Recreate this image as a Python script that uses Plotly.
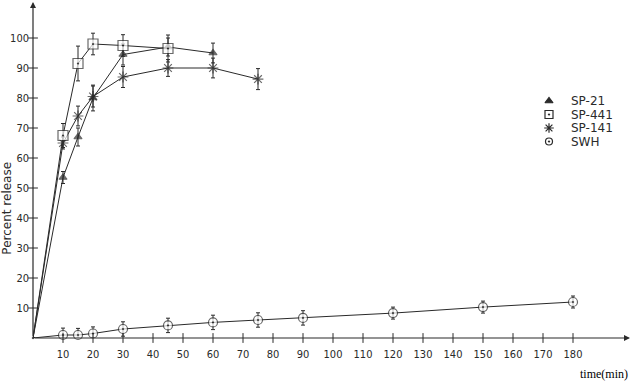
import plotly.graph_objects as go

# ---- data ----
t_sp21 = [0, 10, 15, 20, 30, 45, 60]
y_sp21 = [0, 53.5, 67, 80, 94.5, 97, 95]
e_sp21 = [0, 2, 3, 4.3, 3.5, 3, 3.3]

t_sp441 = [0, 10, 15, 20, 30, 45]
y_sp441 = [0, 67.5, 91.5, 98, 97.5, 96.5]
e_sp441 = [0, 4, 5.8, 3.6, 3.6, 4.5]

t_sp141 = [0, 10, 15, 20, 30, 45, 60, 75]
y_sp141 = [0, 65, 74, 80.5, 87, 90, 90, 86.3]
e_sp141 = [0, 2, 3.3, 3.5, 3.5, 2.8, 3.3, 3.5]

t_swh = [0, 10, 15, 20, 30, 45, 60, 75, 90, 120, 150, 180]
y_swh = [0, 1, 1, 1.5, 3, 4.2, 5.2, 6, 6.7, 8.3, 10.3, 12]
e_swh = [0, 2.3, 2.2, 2.2, 2.4, 2.4, 2.4, 2.4, 2.4, 2, 2, 2]

x_ticks = list(range(10, 190, 10))
y_ticks = list(range(10, 110, 10))

names = ["SP-21", "SP-441", "SP-141", "SWH"]

FONT = "DejaVu Sans Condensed, DejaVu Sans, sans-serif"
LFONT = "DejaVu Sans, sans-serif"
INK = "#2a2a2a"

fig = go.Figure()

def add_series(t, y, e, name, symbol, size, mcolor, lw=1):
    sizes = [0] + [size] * (len(t) - 1)
    fig.add_trace(go.Scatter(
        x=t, y=y, mode="lines+markers", name=name, showlegend=False,
        line=dict(color=INK, width=lw),
        marker=dict(symbol=symbol, size=sizes, color=mcolor,
                    line=dict(color=INK, width=1.2)),
        error_y=dict(type="data", array=e, visible=True, color=INK,
                     thickness=1, width=2),
        cliponaxis=False,
    ))

add_series(t_swh, y_swh, e_swh, names[3], "circle-dot", 9, "white")
add_series(t_sp141, y_sp141, e_sp141, names[2], "asterisk-open", 9, INK)
add_series(t_sp21, y_sp21, e_sp21, names[0], "triangle-up", 7, INK)
add_series(t_sp441, y_sp441, e_sp441, names[1], "square-dot", 10, "white")

# crossing tick marks on the axes
fig.add_trace(go.Scatter(x=x_ticks, y=[0] * len(x_ticks), mode="markers",
                         showlegend=False, hoverinfo="skip",
                         marker=dict(symbol="line-ns-open", size=7, color=INK,
                                     line=dict(color=INK, width=1)),
                         cliponaxis=False))
fig.add_trace(go.Scatter(x=[0] * len(y_ticks), y=y_ticks, mode="markers",
                         showlegend=False, hoverinfo="skip",
                         marker=dict(symbol="line-ew-open", size=7, color=INK,
                                     line=dict(color=INK, width=1)),
                         cliponaxis=False))

# legend drawn as markers + text
leg_syms = ["triangle-up", "square-dot", "asterisk-open", "circle-dot"]
leg_fill = [INK, "white", INK, "white"]
leg_size = [7, 8, 8, 7]
leg_x = 172
leg_y = [79, 74.5, 70, 65.5]
for i, nm in enumerate(names):
    fig.add_trace(go.Scatter(x=[leg_x], y=[leg_y[i]], mode="markers",
                             showlegend=False, hoverinfo="skip",
                             marker=dict(symbol=leg_syms[i], size=leg_size[i],
                                         color=leg_fill[i],
                                         line=dict(color=INK, width=1.2))))
    fig.add_annotation(x=leg_x + 6.5, y=leg_y[i], text=nm, showarrow=False,
                       xanchor="left", yanchor="middle",
                       font=dict(family=LFONT, size=12, color=INK))

# axis arrows
fig.add_annotation(x=199, y=0, ax=0, ay=0, xref="x", yref="y",
                   axref="x", ayref="y", showarrow=True, arrowhead=2,
                   arrowsize=1, arrowwidth=1.2, arrowcolor=INK, text="")
fig.add_annotation(x=0, y=112, ax=0, ay=0, xref="x", yref="y",
                   axref="x", ayref="y", showarrow=True, arrowhead=2,
                   arrowsize=1, arrowwidth=1.2, arrowcolor=INK, text="")

fig.add_annotation(x=1, y=0, xref="paper", yref="paper", yshift=-45,
                   text="time(min)", showarrow=False, xanchor="right",
                   yanchor="bottom",
                   font=dict(family="Liberation Serif, Times New Roman, serif",
                             size=12, color="black"))

fig.add_annotation(x=0, y=0.385, xref="paper", yref="paper", xshift=-26,
                   text="Percent release", showarrow=False, textangle=-90,
                   xanchor="center", yanchor="middle",
                   font=dict(family=LFONT, size=12, color=INK))

fig.update_layout(
    width=633, height=388,
    margin=dict(l=33, r=3, t=2, b=50),
    plot_bgcolor="white", paper_bgcolor="white",
    showlegend=False,
    xaxis=dict(range=[0, 199], showgrid=False, zeroline=False, showline=False,
               tickvals=x_ticks, ticks="",
               tickfont=dict(family=FONT, size=11, color=INK),
               ticklabelstandoff=8),
    yaxis=dict(range=[0, 112], showgrid=False, zeroline=False, showline=False,
               tickvals=y_ticks, ticks="",
               tickfont=dict(family=FONT, size=11, color=INK),
               ticklabelstandoff=3),
)

fig.write_html("out.html")
